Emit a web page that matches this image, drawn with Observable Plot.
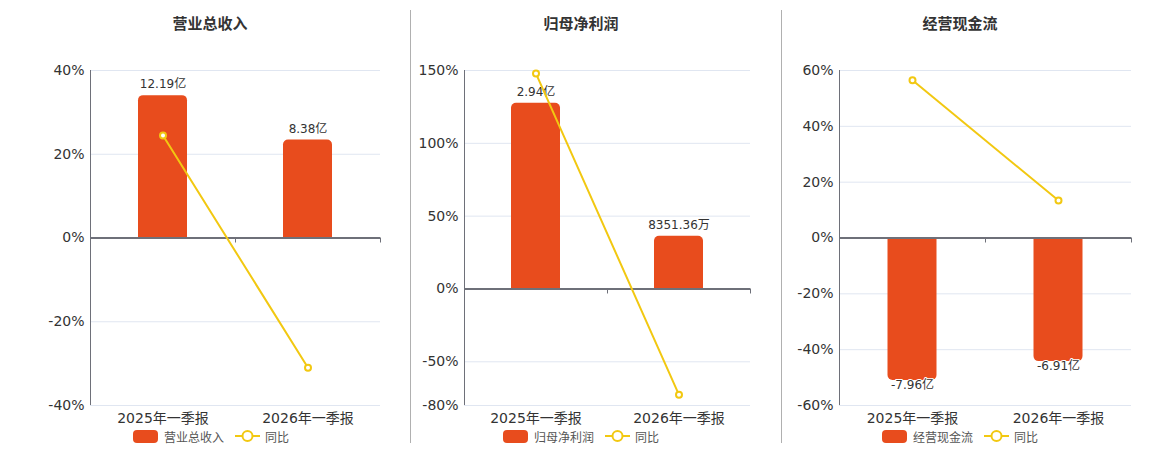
<!DOCTYPE html>
<html>
<head>
<meta charset="utf-8">
<script src="https://cdn.jsdelivr.net/npm/d3@7"></script>
<script src="https://cdn.jsdelivr.net/npm/@observablehq/plot@0.6"></script>
<style>
  html, body { margin: 0; padding: 0; background: #fff; }
  body { width: 1160px; height: 450px; position: relative; overflow: hidden;
         font-family: "DejaVu Sans", "Noto Sans CJK SC", sans-serif; }
  .panel-svg { position: absolute; top: 0; }
  .title { position: absolute; top: 12px; width: 200px; text-align: center;
           font-size: 15px; font-weight: bold; color: #333; }
  .sep { position: absolute; top: 10px; height: 433px; width: 1px; background: #b0b0b0; }
  .legend { position: absolute; top: 429px; display: flex; align-items: center;
            font-size: 12px; color: #555; height: 14px; }
  .legend .sw { width: 25px; height: 13px; border-radius: 4px; background: #E84C1D; margin-right: 6px; }
  .legend .ln { margin-left: 11px; margin-right: 5px; }
</style>
</head>
<body>
<script>
// ---- data ----
const categories = ["2025年一季报", "2026年一季报"];

const titles = ["营业总收入", "归母净利润", "经营现金流"];

// bar values (亿元)
const revenueValues = [12.19, 8.38];
const profitValues = [2.94, 0.835136];
const cashflowValues = [-7.96, -6.91];

// bar labels
const revenueLabels = ["12.19亿", "8.38亿"];
const profitLabels = ["2.94亿", "8351.36万"];
const cashflowLabels = ["-7.96亿", "-6.91亿"];

// 同比 (%)
const revenueYoy = [24.5, -31.0];
const profitYoy = [147.9, -72.7];
const cashflowYoy = [56.5, 13.4];

// y-axis ticks (%)
const revenueTicks = [-40, -20, 0, 20, 40];
const profitTicks = [-80, -50, 0, 50, 100, 150];
const cashflowTicks = [-60, -40, -20, 0, 20, 40, 60];

const barColor = "#E84C1D";
const lineColor = "#F2C811";
const axisColor = "#6E7079";
const gridColor = "#E0E6F1";
const font = '"DejaVu Sans", "Noto Sans CJK SC", sans-serif';

const panels = [
  {title: titles[0], values: revenueValues, labels: revenueLabels, yoy: revenueYoy, ticks: revenueTicks,
   left: 0, width: 400, mL: 90, mR: 20, titleC: 210, legendL: 133},
  {title: titles[1], values: profitValues, labels: profitLabels, yoy: profitYoy, ticks: profitTicks,
   left: 410, width: 360, mL: 54, mR: 20, titleC: 581, legendL: 503},
  {title: titles[2], values: cashflowValues, labels: cashflowLabels, yoy: cashflowYoy, ticks: cashflowTicks,
   left: 781, width: 379, mL: 58, mR: 29, titleC: 960, legendL: 882}
];

const H = 450, mT = 70, mB = 45;

panels.forEach((p, k) => {
  const lo = d3.min(p.ticks), hi = d3.max(p.ticks);
  const maxAbs = d3.max(p.values, v => Math.abs(v));
  // hidden secondary axis for bars: largest bar reaches 85% of the axis extent on its side
  const barScale = v => v / maxAbs * 0.85 * (v >= 0 ? hi : -lo);
  const rows = categories.map((c, i) => ({
    cat: c, value: p.values[i], bar: barScale(p.values[i]), label: p.labels[i], yoy: p.yoy[i]
  }));
  const pos = rows.filter(d => d.value >= 0);
  const neg = rows.filter(d => d.value < 0);
  const step = (p.width - p.mL - p.mR) / categories.length;
  const barW = 49;
  const inset = (step - barW) / 2;

  const chart = Plot.plot({
    width: p.width,
    height: H,
    marginLeft: p.mL,
    marginRight: p.mR,
    marginTop: mT,
    marginBottom: mB,
    style: {fontFamily: font, background: "transparent"},
    x: {type: "band", domain: categories, padding: 0},
    y: {domain: [lo, hi]},
    marks: [
      Plot.ruleY(p.ticks, {stroke: gridColor, strokeWidth: 1}),
      Plot.ruleX([categories[0]], {dx: -step / 2, stroke: axisColor, strokeWidth: 1}),
      Plot.barY(pos, {x: "cat", y: "bar", fill: barColor, ry1: 5, insetLeft: inset, insetRight: inset}),
      Plot.barY(neg, {x: "cat", y: "bar", fill: barColor, ry2: 5, insetLeft: inset, insetRight: inset}),
      Plot.ruleY([0], {stroke: axisColor, strokeWidth: 2}),
      Plot.ruleX(categories, {x: d => d, y1: 0, y2: 0, dx: step / 2, insetBottom: -5, stroke: axisColor, strokeWidth: 1}),
      Plot.text(pos, {x: "cat", y: "bar", text: "label", dy: -11,
        lineAnchor: "middle", fontSize: 12, fill: "#333", stroke: "white", strokeWidth: 2}),
      Plot.text(neg, {x: "cat", y: "bar", text: "label", dy: 5,
        lineAnchor: "middle", fontSize: 12, fill: "#333", stroke: "white", strokeWidth: 2}),
      Plot.line(rows, {x: "cat", y: "yoy", stroke: lineColor, strokeWidth: 2}),
      Plot.dot(rows, {x: "cat", y: "yoy", r: 3, stroke: lineColor, strokeWidth: 2, fill: "white"}),
      Plot.axisY({ticks: p.ticks, tickSize: 0, tickPadding: 6, tickFormat: d => d + "%",
        fontSize: 14, fill: "#333"}),
      Plot.axisX({tickSize: 0, tickPadding: 8, fontSize: 14, fill: "#333", label: null})
    ]
  });
  chart.classList.add("panel-svg");
  chart.style.left = p.left + "px";
  document.body.appendChild(chart);

  const t = document.createElement("div");
  t.className = "title";
  t.style.left = (p.titleC - 100) + "px";
  t.textContent = p.title;
  document.body.appendChild(t);

  const lg = document.createElement("div");
  lg.className = "legend";
  lg.style.left = p.legendL + "px";
  lg.innerHTML = `<div class="sw"></div><span>${p.title}</span>` +
    `<svg class="ln" width="25" height="14"><line x1="0" y1="7" x2="25" y2="7" stroke="${lineColor}" stroke-width="2"/>` +
    `<circle cx="12.5" cy="7" r="5" fill="white" stroke="${lineColor}" stroke-width="2"/></svg><span>同比</span>`;
  document.body.appendChild(lg);
});

// separators
[410, 781].forEach(x => {
  const s = document.createElement("div");
  s.className = "sep";
  s.style.left = x + "px";
  document.body.appendChild(s);
});
</script>
</body>
</html>
